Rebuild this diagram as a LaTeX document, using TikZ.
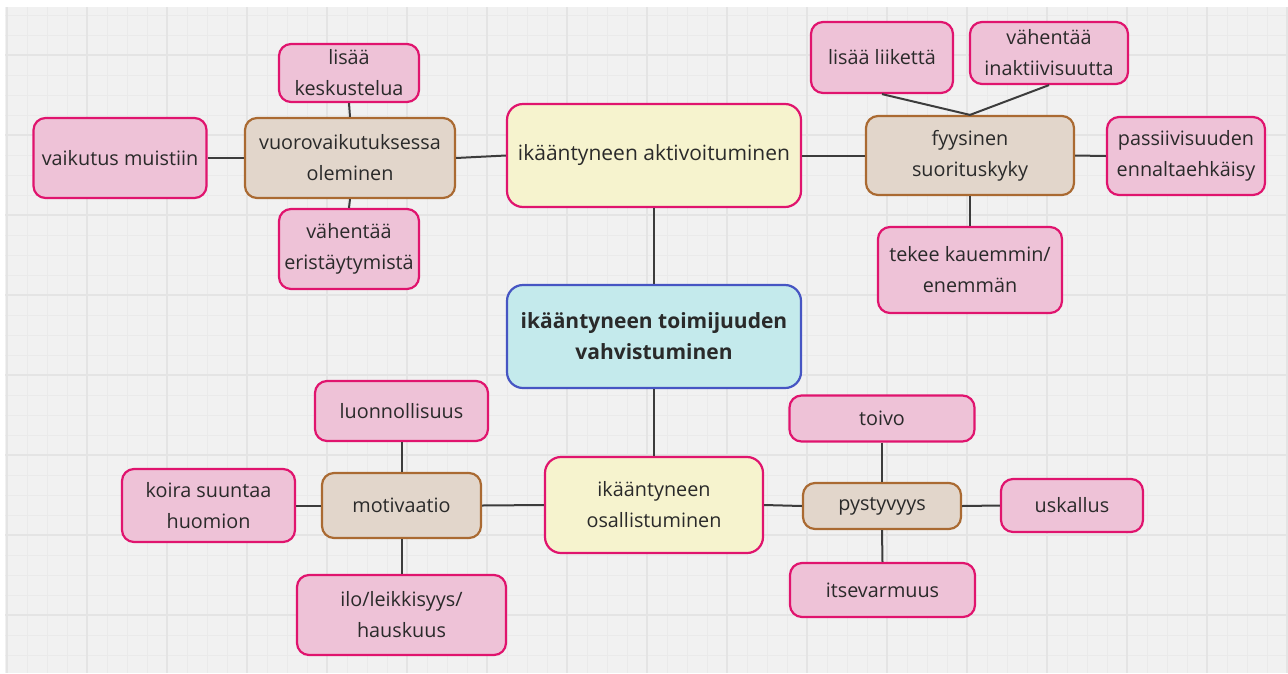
\documentclass[tikz,border=0pt]{standalone}
\usepackage{fontspec}
\setmainfont{Open Sans}
\definecolor{pinkfill}{HTML}{EEC2D7}
\definecolor{pinkline}{HTML}{E0146E}
\definecolor{brownfill}{HTML}{E2D6CB}
\definecolor{brownline}{HTML}{AA6A32}
\definecolor{yellowfill}{HTML}{F6F3CE}
\definecolor{cyanfill}{HTML}{C4EAEC}
\definecolor{cyanline}{HTML}{4655C3}
\definecolor{gridbg}{HTML}{F1F1F1}
\definecolor{gridminor}{HTML}{EAEAEA}
\definecolor{gridmajor}{HTML}{E4E4E4}
\definecolor{txt}{HTML}{2A2A2A}
\definecolor{connc}{HTML}{3C3C3C}
\begin{document}
\begin{tikzpicture}[x=1pt,y=-1pt,
  base/.style={rounded corners=12pt, line width=2.2pt, inner sep=0pt, align=center,
    font=\fontsize{19.8}{31}\selectfont, text=txt},
  pinkbox/.style={base, draw=pinkline, fill=pinkfill},
  brownbox/.style={base, draw=brownline, fill=brownfill},
  yellowbox/.style={base, rounded corners=16pt, draw=pinkline, fill=yellowfill},
  cyanbox/.style={base, rounded corners=16pt, draw=cyanline, fill=cyanfill},
  conn/.style={draw=connc, line width=2pt},
  gminor/.style={draw=gridminor, line width=0.8pt},
  gmajor/.style={draw=gridmajor, line width=1.1pt}]
\useasboundingbox (0,0) rectangle (1288,673);
\fill[white] (0,0) rectangle (1288,673);
\fill[gridbg] (5,7) rectangle (1288,673);
\foreach \x in {27,47,...,1287} \draw[gminor] (\x,7) -- (\x,673);
\foreach \y in {15,35,...,672} \draw[gminor] (5,\y) -- (1288,\y);
\foreach \x in {7,87,...,1287} \draw[gmajor] (\x,7) -- (\x,673);
\foreach \y in {55,135,...,672} \draw[gmajor] (5,\y) -- (1288,\y);

% top-left group
\node[pinkbox, minimum width=140pt, minimum height=58pt] (lk) at (349,73) {lisää\\keskustelua};
\node[brownbox, minimum width=210pt, minimum height=80pt] (vo) at (350,158) {vuorovaikutuksessa\\oleminen};
\node[pinkbox, minimum width=173pt, minimum height=80pt] (vm) at (120,158) {vaikutus muistiin};
\node[pinkbox, minimum width=140pt, minimum height=80pt] (ve) at (349,249) {vähentää\\eristäytymistä};

% centre column
\node[yellowbox, minimum width=294pt, minimum height=103pt, font=\fontsize{21}{32}\selectfont] (akt) at (654,155.5) {ikääntyneen aktivoituminen};
\node[cyanbox, minimum width=294pt, minimum height=103pt, font=\fontsize{21}{31}\selectfont\bfseries] (ctr) at (654,336.5) {ikääntyneen toimijuuden\\vahvistuminen};
\node[yellowbox, minimum width=218pt, minimum height=96pt] (os) at (654,505) {ikääntyneen\\osallistuminen};

% top-right group
\node[pinkbox, minimum width=142pt, minimum height=71pt] (ll) at (882,57.5) {lisää liikettä};
\node[pinkbox, minimum width=158pt, minimum height=62pt] (vi) at (1049,53) {vähentää\\inaktiivisuutta};
\node[brownbox, minimum width=208pt, minimum height=79pt] (fy) at (970,155.5) {fyysinen\\suorituskyky};
\node[pinkbox, minimum width=158pt, minimum height=78pt] (pe) at (1186,156) {passiivisuuden\\ennaltaehkäisy};
\node[pinkbox, minimum width=184pt, minimum height=86pt] (tk) at (970,270) {tekee kauemmin/\\enemmän};

% bottom-left group
\node[pinkbox, minimum width=173pt, minimum height=60pt] (lu) at (401.5,411) {luonnollisuus};
\node[brownbox, minimum width=159pt, minimum height=65pt] (mo) at (401.5,505.5) {motivaatio};
\node[pinkbox, minimum width=173pt, minimum height=73pt] (ko) at (208.5,505.5) {koira suuntaa\\huomion};
\node[pinkbox, minimum width=209pt, minimum height=80pt] (il) at (401.5,615) {ilo/leikkisyys/\\hauskuus};

% bottom-right group
\node[pinkbox, minimum width=185pt, minimum height=46pt] (to) at (882,418.5) {toivo};
\node[brownbox, minimum width=158pt, minimum height=46pt] (py) at (882,506) {pystyvyys};
\node[pinkbox, minimum width=142pt, minimum height=53pt] (us) at (1072,505.5) {uskallus};
\node[pinkbox, minimum width=185pt, minimum height=54pt] (it) at (882.5,590) {itsevarmuus};

% connectors
\draw[conn] (lk.south) -- (vo.north);
\draw[conn] (vo.south) -- (ve.north);
\draw[conn] (vm.east) -- (vo.west);
\draw[conn] (vo.east) -- (akt.west);
\draw[conn] (akt.south) -- (ctr.north);
\draw[conn] (ctr.south) -- (os.north);
\draw[conn] (akt.east) -- (fy.west);
\draw[conn] (ll.south) -- (fy.north);
\draw[conn] (vi.south) -- (fy.north);
\draw[conn] (fy.east) -- (pe.west);
\draw[conn] (fy.south) -- (tk.north);
\draw[conn] (lu.south) -- (mo.north);
\draw[conn] (ko.east) -- (mo.west);
\draw[conn] (mo.south) -- (il.north);
\draw[conn] (mo.east) -- (os.west);
\draw[conn] (os.east) -- (py.west);
\draw[conn] (to.south) -- (py.north);
\draw[conn] (py.east) -- (us.west);
\draw[conn] (py.south) -- (it.north);
\end{tikzpicture}
\end{document}
